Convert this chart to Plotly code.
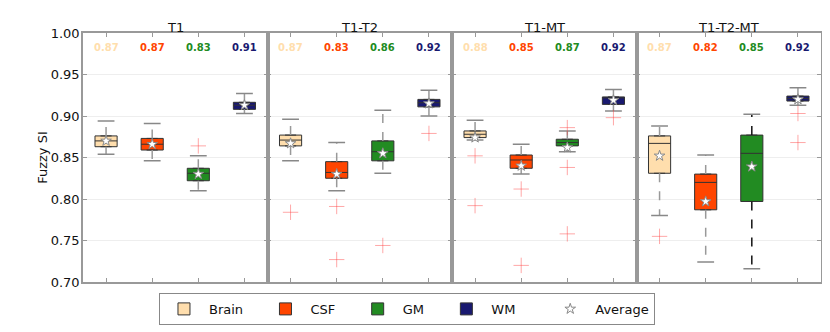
import plotly.graph_objects as go
from plotly.subplots import make_subplots

panels = ['T1', 'T1-T2', 'T1-MT', 'T1-T2-MT']
tissues = ['Brain', 'CSF', 'GM', 'WM']
colors = ['#FFDEAD', '#FF4500', '#228B22', '#191970']

# box stats per panel, per tissue
lo = [[.854, .846, .810, .903], [.846, .810, .831, .900],
      [.871, .830, .857, .906], [.780, .724, .716, .913]]
q1 = [[.863, .859, .822, .908], [.864, .825, .846, .911],
      [.874, .837, .864, .914], [.831, .787, .797, .918]]
med = [[.870, .866, .831, .913], [.871, .832, .857, .916],
       [.878, .847, .868, .922], [.867, .820, .855, .921]]
q3 = [[.876, .873, .837, .9165], [.877, .845, .870, .920],
      [.882, .853, .872, .923], [.876, .830, .877, .924]]
hi = [[.894, .891, .852, .927], [.896, .868, .907, .931],
      [.895, .866, .882, .932], [.888, .853, .902, .934]]
avg = [[.870, .866, .830, .913], [.867, .830, .855, .915],
       [.874, .840, .862, .919], [.852, .797, .839, .920]]
outliers = [
    [[], [], [.864], []],
    [[.784], [.791, .727], [.744], [.879]],
    [[.852, .792], [.812, .720], [.886, .838, .758], [.898]],
    [[.755], [], [], [.903, .868]],
]
labels = [['0.87', '0.87', '0.83', '0.91'], ['0.87', '0.83', '0.86', '0.92'],
          ['0.88', '0.85', '0.87', '0.92'], ['0.87', '0.82', '0.85', '0.92']]
whisker_col = [['#999'] * 4, ['#999'] * 4, ['#999'] * 4, ['#999', '#999', '#111', '#999']]

# extra padding after legend names, to spread the entries out
pad = [3, 3, 3, 6]

fig = make_subplots(rows=1, cols=4, shared_yaxes=True, horizontal_spacing=0,
                    subplot_titles=panels)

for p in range(4):
    col = p + 1
    for t in range(4):
        x = t + 1
        # whiskers
        fig.add_trace(go.Scatter(
            x=[x, x, None, x, x], y=[q3[p][t], hi[p][t], None, q1[p][t], lo[p][t]],
            mode='lines', line=dict(color=whisker_col[p][t], width=1.5, dash='dash'),
            showlegend=False, hoverinfo='skip'), row=1, col=col)
        fig.add_trace(go.Scatter(
            x=[x, x], y=[lo[p][t], hi[p][t]], mode='markers',
            marker=dict(symbol='line-ew-open', size=12, color='#888',
                        line=dict(color='#888', width=1.5)),
            showlegend=False, hoverinfo='skip'), row=1, col=col)
        fig.add_trace(go.Box(
            x=[x], q1=[q1[p][t]], median=[med[p][t]], q3=[q3[p][t]],
            lowerfence=[q1[p][t]], upperfence=[q3[p][t]], width=0.48,
            fillcolor=colors[t], line=dict(color='#333', width=1),
            name=tissues[t] + '\u00a0' * pad[t], legendgroup=tissues[t],
            showlegend=(p == 0), boxpoints=False), row=1, col=col)
        if outliers[p][t]:
            fig.add_trace(go.Scatter(
                x=[x] * len(outliers[p][t]), y=outliers[p][t], mode='markers',
                marker=dict(symbol='cross-thin-open', size=11, color='rgba(255,60,60,0.45)',
                            line=dict(color='rgba(255,60,60,0.45)', width=1)),
                showlegend=False, hoverinfo='skip'), row=1, col=col)
        fig.add_annotation(x=x, y=0.982, text='<b>%s</b>' % labels[p][t], showarrow=False,
                           font=dict(size=10, color=colors[t]), row=1, col=col)
    fig.add_trace(go.Scatter(
        x=[1, 2, 3, 4], y=avg[p], mode='markers', name='Average', legendgroup='avg',
        showlegend=(p == 0), hoverinfo='skip',
        marker=dict(symbol='star', size=8, color='white', line=dict(color='#888', width=1))),
        row=1, col=col)

    fig.update_xaxes(range=[0.5, 4.5], tickvals=[1, 2, 3, 4], ticktext=['', '', '', ''],
                     ticks='inside', ticklen=4, tickcolor='#999', mirror='ticks',
                     showline=True, linecolor='#999', linewidth=1.5, showgrid=False,
                     zeroline=False, row=1, col=col)
    fig.update_yaxes(range=[0.70, 1.00], dtick=0.05, tickformat='.2f', ticks='inside',
                     ticklen=4, tickcolor='#999', mirror='ticks', showline=True,
                     linecolor='#999', linewidth=1.5, showgrid=True, gridcolor='#eeeeee',
                     zeroline=False, row=1, col=col)

fig.update_yaxes(title=dict(text='Fuzzy SI', font=dict(size=13), standoff=0),
                 tickfont=dict(size=13, color='#111'), ticklabelstandoff=-1, row=1, col=1)
for a in fig.layout.annotations:
    if a.text in panels:
        a.font = dict(size=13, color='#111')
        a.yshift = -4

# page body adds an 8px offset, margins account for it
fig.update_layout(
    width=830, height=332, plot_bgcolor='white', paper_bgcolor='white',
    font=dict(family='DejaVu Sans', color='#111'),
    margin=dict(l=75, r=17, t=25, b=58),
    legend=dict(orientation='h', x=0.439, xanchor='center', y=-0.044, yanchor='top',
                bordercolor='#888', borderwidth=1, font=dict(size=13), itemwidth=40),
)

fig.write_html('out.html')
